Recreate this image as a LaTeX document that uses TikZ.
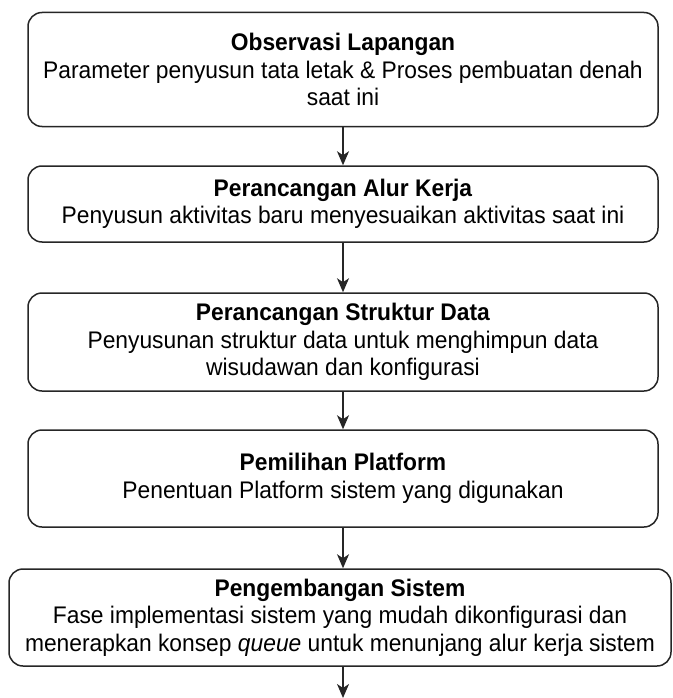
\documentclass[tikz,border=0pt]{standalone}
\usepackage{fontspec}
\setmainfont[FakeStretch=0.95]{Liberation Sans}
\usetikzlibrary{arrows.meta}
\begin{document}
\begin{tikzpicture}[x=1pt,y=-1pt,
  stepbox/.style={draw=black!85, line width=1.5pt, rounded corners=14pt, fill=white,
    align=center, inner sep=0pt, font=\fontsize{24}{27.5}\selectfont},
  flow/.style={draw=black!85, line width=1.5pt, -{Stealth[length=14pt,width=12pt,inset=4pt]}}]
\useasboundingbox (0,0) rectangle (672,698);
\node[stepbox, minimum width=630, minimum height=114] (b1) at (343,69.5)
  {\textbf{Observasi Lapangan}\\Parameter penyusun tata letak \& Proses pembuatan denah\\saat ini};
\node[stepbox, minimum width=630, minimum height=76] (b2) at (343,204)
  {\textbf{Perancangan Alur Kerja}\\Penyusun aktivitas baru menyesuaikan aktivitas saat ini};
\node[stepbox, minimum width=630, minimum height=98] (b3) at (343,342)
  {\textbf{Perancangan Struktur Data}\\Penyusunan struktur data untuk menghimpun data\\wisudawan dan konfigurasi};
\node[stepbox, minimum width=630, minimum height=97] (b4) at (343,478.5)
  {\textbf{Pemilihan Platform}\\Penentuan Platform sistem yang digunakan};
\node[stepbox, minimum width=662, minimum height=97] (b5) at (340,617.5)
  {\textbf{Pengembangan Sistem}\\Fase implementasi sistem yang mudah dikonfigurasi dan\\menerapkan konsep \textit{queue} untuk menunjang alur kerja sistem};
\coordinate (end) at (343,698);
\draw[flow] (b1.south) -- (b2.north);
\draw[flow] (b2.south) -- (b3.north);
\draw[flow] (b3.south) -- (b4.north);
\draw[flow] (b4.south) -- (b4.south |- b5.north);
\draw[flow] (b4.south |- b5.south) -- (end);
\end{tikzpicture}
\end{document}
